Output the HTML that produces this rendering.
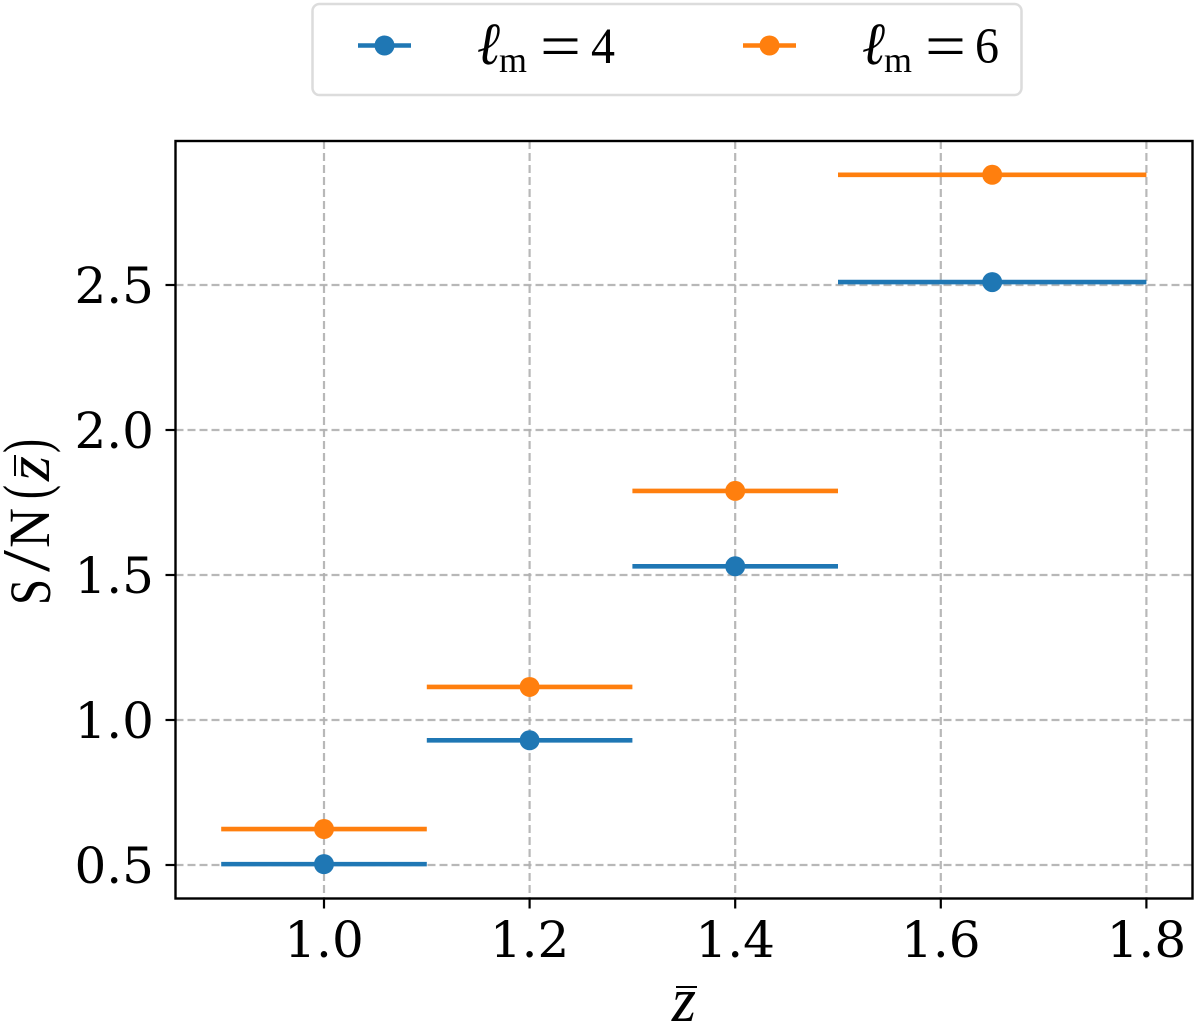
<!DOCTYPE html>
<html>
<head>
<meta charset="utf-8">
<style>
html,body{margin:0;padding:0;background:#fff;}
svg{display:block;}
text{fill:#000;}
.tick{font-family:"DejaVu Serif","Liberation Serif",serif;font-size:50px;}
.math{font-family:"Liberation Serif",serif;}
</style>
</head>
<body>
<svg id="chart" xmlns="http://www.w3.org/2000/svg" width="1200" height="1030" viewBox="0 0 1200 1030">
  <g id="grid"></g>
  <g id="series"></g>
  <rect x="175.5" y="141" width="1017" height="757.5" fill="none" stroke="#000" stroke-width="2.4"/>
  <g id="ticks"></g>

  <text class="math" x="684" y="1021" font-size="62" font-style="italic" text-anchor="middle">z</text>
  <line x1="676" x2="697" y1="987" y2="987" stroke="#000" stroke-width="2"/>

  <g class="math" font-size="58">
    <text transform="translate(50,605) rotate(-90)" textLength="26" lengthAdjust="spacingAndGlyphs">S</text>
    <text transform="translate(49,572) rotate(-90)" textLength="22" lengthAdjust="spacingAndGlyphs" font-size="68">/</text>
    <text transform="translate(49,548) rotate(-90)" textLength="40" lengthAdjust="spacingAndGlyphs">N</text>
    <text transform="translate(47,499) rotate(-90)" textLength="14" lengthAdjust="spacingAndGlyphs" font-size="64">(</text>
    <text transform="translate(49,481) rotate(-90)" textLength="25" lengthAdjust="spacingAndGlyphs" font-style="italic" font-size="60">z</text>
    <line x1="15" x2="15" y1="455" y2="476" stroke="#000" stroke-width="2"/>
    <text transform="translate(47,453) rotate(-90)" textLength="14" lengthAdjust="spacingAndGlyphs" font-size="64">)</text>
  </g>

  <g>
    <rect x="312.5" y="4" width="709" height="91" rx="7" fill="#fff" stroke="#dcdcdc" stroke-width="2.5"/>
    <g>
      <line x1="358" x2="411" y1="45.5" y2="45.5" stroke="#1f77b4" stroke-width="4.6"/>
      <circle cx="384.5" cy="45.5" r="10" fill="#1f77b4"/>
      <g class="math">
        <text x="477" y="64" font-size="60" font-style="italic" textLength="23" lengthAdjust="spacingAndGlyphs">ℓ</text>
        <text x="499" y="72" font-size="36" textLength="28" lengthAdjust="spacingAndGlyphs">m</text>
        <text x="540" y="67" font-size="62" textLength="41" lengthAdjust="spacingAndGlyphs">=</text>
        <text x="591" y="63" font-size="51" textLength="24" lengthAdjust="spacingAndGlyphs">4</text>
      </g>
    </g>
    <g>
      <line x1="743" x2="796" y1="45.5" y2="45.5" stroke="#ff7f0e" stroke-width="4.6"/>
      <circle cx="769.5" cy="45.5" r="10" fill="#ff7f0e"/>
      <g class="math">
        <text x="862" y="64" font-size="60" font-style="italic" textLength="23" lengthAdjust="spacingAndGlyphs">ℓ</text>
        <text x="884" y="72" font-size="36" textLength="28" lengthAdjust="spacingAndGlyphs">m</text>
        <text x="925" y="67" font-size="62" textLength="41" lengthAdjust="spacingAndGlyphs">=</text>
        <text x="975" y="63" font-size="51" textLength="24" lengthAdjust="spacingAndGlyphs">6</text>
      </g>
    </g>
  </g>
</svg>
<script>
const xCenters = [1.0, 1.2, 1.4, 1.65];
const xLow = [0.9, 1.1, 1.3, 1.5];
const xHigh = [1.1, 1.3, 1.5, 1.8];
const snrLm4 = [0.503, 0.93, 1.53, 2.51];
const snrLm6 = [0.624, 1.114, 1.79, 2.88];
const xTickValues = [1.0, 1.2, 1.4, 1.6, 1.8];
const yTickValues = [0.5, 1.0, 1.5, 2.0, 2.5];

const NS = 'http://www.w3.org/2000/svg';
const plotLeft = 175.5, plotRight = 1192.5, plotTop = 141, plotBottom = 898.5;
function xScale(v){ return 324 + (v - 1.0) * 1028; }
function yScale(v){ return 865 - (v - 0.5) * 290; }
function make(tag, attrs, parent){
  const el = document.createElementNS(NS, tag);
  for (const k in attrs) el.setAttribute(k, attrs[k]);
  parent.appendChild(el);
  return el;
}
const grid = document.getElementById('grid');
const ticks = document.getElementById('ticks');
const series = document.getElementById('series');

xTickValues.forEach(function(v){
  const x = xScale(v);
  const g = make('line', {x1:x, x2:x, y1:plotTop, y2:plotBottom, stroke:'#b0b0b0', 'stroke-opacity':0.9, 'stroke-width':2.2, 'stroke-dasharray':'8 4'}, grid);
  
  
  const t = make('line', {x1:x, x2:x, y1:plotBottom, y2:plotBottom + 10, stroke:'#000', 'stroke-width':2.2}, ticks);
  
  
  const l = make('text', {x:x, y:957, 'text-anchor':'middle', class:'tick'}, ticks);
  
  
  l.textContent = v.toFixed(1);
});
yTickValues.forEach(function(v){
  const y = yScale(v);
  const g = make('line', {x1:plotLeft, x2:plotRight, y1:y, y2:y, stroke:'#b0b0b0', 'stroke-opacity':0.9, 'stroke-width':2.2, 'stroke-dasharray':'8 4'}, grid);
  
  
  const t = make('line', {x1:plotLeft - 10, x2:plotLeft, y1:y, y2:y, stroke:'#000', 'stroke-width':2.2}, ticks);
  
  
  const l = make('text', {x:154, y:y + 18, 'text-anchor':'end', class:'tick'}, ticks);
  
  
  l.textContent = v.toFixed(1);
});
function drawSeries(values, color, label){
  values.forEach(function(v, i){
    const y = yScale(v);
    const bar = make('line', {x1:xScale(xLow[i]), x2:xScale(xHigh[i]), y1:y, y2:y, stroke:color, 'stroke-width':4.6}, series);
    
    
    const pt = make('circle', {cx:xScale(xCenters[i]), cy:y, r:10, fill:color}, series);
    
    
  });
}
drawSeries(snrLm4, '#1f77b4', 'lm4');
drawSeries(snrLm6, '#ff7f0e', 'lm6');
</script>
</body>
</html>
